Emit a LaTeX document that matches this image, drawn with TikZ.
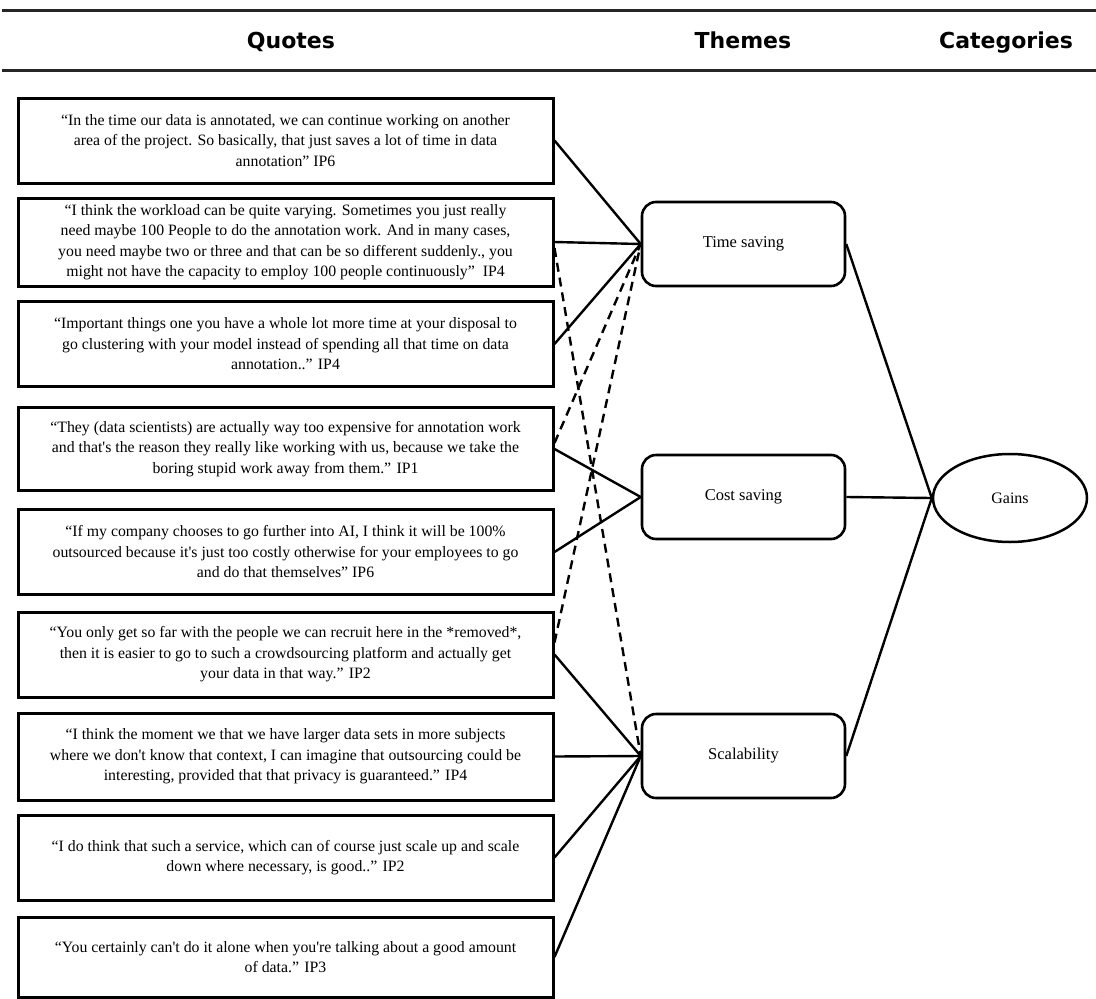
\documentclass[tikz,border=0pt]{standalone}
\usepackage{fontspec}
\setmainfont{Liberation Serif}
\newfontfamily\hdrfont{DejaVu Sans}
\usetikzlibrary{shapes.geometric}
\newcommand{\apo}{\textquotesingle}
\begin{document}
\begin{tikzpicture}[x=1pt,y=-1pt,
  qbox/.style={draw, line width=3pt, minimum width=535pt, minimum height=85pt, inner sep=0pt, align=center, font=\fontsize{15.8}{20.5}\selectfont},
  tbox/.style={draw, rounded corners=14pt, line width=2.6pt, minimum width=203pt, minimum height=84pt, inner sep=0pt, font=\fontsize{16.5}{19}\selectfont},
  cbox/.style={draw, ellipse, line width=2.5pt, minimum width=154pt, minimum height=88pt, inner sep=0pt, font=\fontsize{16}{18}\selectfont},
  hdr/.style={font=\hdrfont\bfseries\fontsize{22}{26}\selectfont, anchor=base, inner sep=0pt},
  link/.style={line width=2.4pt},
  dlink/.style={line width=2.4pt, dash pattern=on 9pt off 6pt},
  rulestyle/.style={line width=3pt, draw=black!85}]
\useasboundingbox (0,0) rectangle (1096,999);

% header
\coordinate (r1a) at (2,10);
\coordinate (r1b) at (1096,10);
\coordinate (r2a) at (2,70);
\coordinate (r2b) at (1096,70);
\draw[rulestyle] (r1a) -- (r1b);
\draw[rulestyle] (r2a) -- (r2b);
\node[hdr] (hq) at (291,48) {Quotes};
\node[hdr] (ht) at (743,48) {Themes};
\node[hdr] (hc) at (1006,48) {Categories};

% quotes
\node[qbox] (q1) at (285.5,140.5) {“In the time our data is annotated, we can continue working on another\\ area of the project. So basically, that just saves a lot of time in data\\ annotation” IP6};
\node[qbox, minimum height=88pt] (q2) at (285.5,242) {“I think the workload can be quite varying.  Sometimes you just really\\ need maybe 100 People to do the annotation work. And in many cases,\\ you need maybe two or three and that can be so different suddenly., you\\ might not have the capacity to employ 100 people continuously”~~IP4};
\node[qbox] (q3) at (285.5,344) {“Important things one you have a whole lot more time at your disposal to\\ go clustering with your model instead of spending all that time on data\\ annotation..” IP4};
\node[qbox, minimum height=83pt] (q4) at (285.5,449) {“They (data scientists) are actually way too expensive for annotation work\\ and that\apo s the reason they really like working with us, because we take the\\ boring stupid work away from them.” IP1};
\node[qbox] (q5) at (285.5,552) {“If my company chooses to go further into AI, I think it will be 100\%\\ outsourced because it\apo s just too costly otherwise for your employees to go\\ and do that themselves” IP6};
\node[qbox] (q6) at (285.5,654.5) {“You only get so far with the people we can recruit here in the *removed*,\\ then it is easier to go to such a crowdsourcing platform and actually get\\ your data in that way.” IP2};
\node[qbox, minimum height=87pt] (q7) at (285.5,756.5) {“I think the moment we that we have larger data sets in more subjects\\ where we don\apo t know that context, I can imagine that outsourcing could be\\ interesting, provided that that privacy is guaranteed.” IP4};
\node[qbox] (q8) at (285.5,857.5) {“I do think that such a service, which can of course just scale up and scale\\ down where necessary, is good..” IP2};
\node[qbox, minimum height=80pt] (q9) at (285.5,957) {“You certainly can\apo t do it alone when you\apo re talking about a good amount\\ of data.” IP3};

% themes
\node[tbox] (ts) at (743.5,244) {Time saving};
\node[tbox] (cs) at (743.5,497) {Cost saving};
\node[tbox] (sc) at (743.5,756) {Scalability};

% category
\node[cbox] (ga) at (1010,498) {Gains};

% solid links
\draw[link] (q1.east) -- (ts.west);
\draw[link] (q2.east) -- (ts.west);
\draw[link] (q3.east) -- (ts.west);
\draw[link] (q4.east) -- (cs.west);
\draw[link] (q5.east) -- (cs.west);
\draw[link] (q6.east) -- (sc.west);
\draw[link] (q7.east) -- (sc.west);
\draw[link] (q8.east) -- (sc.west);
\draw[link] (q9.east) -- (sc.west);

% dashed links
\draw[dlink] ([yshift=-6pt]q2.east) -- (sc.west);
\draw[dlink] ([yshift=6pt]q4.east) -- (ts.west);
\draw[dlink] ([yshift=12pt]q6.east) -- (ts.west);

% theme to category
\draw[link] (ts.east) -- (ga.west);
\draw[link] (cs.east) -- (ga.west);
\draw[link] (sc.east) -- (ga.west);
\end{tikzpicture}
\end{document}
